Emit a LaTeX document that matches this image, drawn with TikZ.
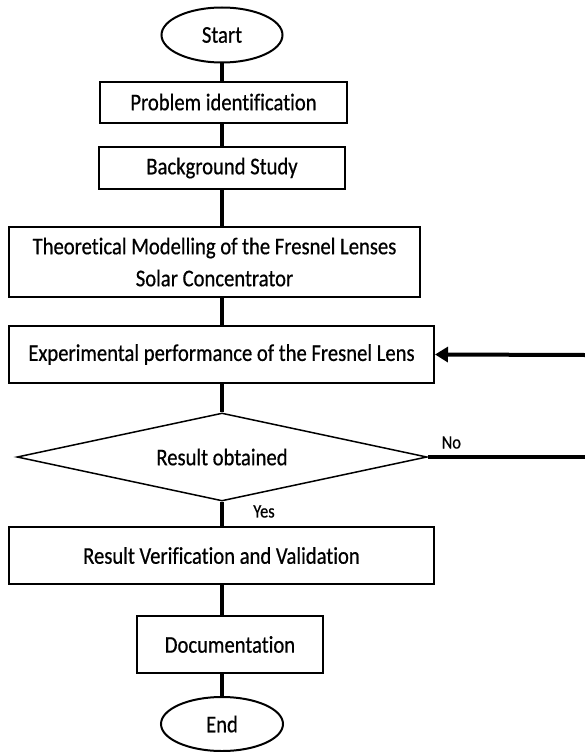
\documentclass[tikz,border=0pt]{standalone}
\usepackage{fontspec}
\setmainfont{Carlito}[Ligatures=CommonOff, FakeStretch=0.86, FakeBold=0.6]
\usepackage{tikz}
\usetikzlibrary{arrows.meta,shapes.geometric}
\definecolor{fcblack}{RGB}{0,0,0}

\begin{document}
\begin{tikzpicture}[x=1pt,y=-1pt,
  procbox/.style={draw=fcblack, line width=2pt, rectangle, inner sep=0pt, minimum height=57pt, font=\fontsize{24}{32}\selectfont, align=center},
  termbox/.style={draw=fcblack, line width=2pt, ellipse, inner sep=0pt, minimum width=121pt, minimum height=55pt, font=\fontsize{24}{32}\selectfont},
  decbox/.style={draw=fcblack, line width=1.5pt, diamond, inner sep=0pt, aspect=4.66, minimum width=410pt, minimum height=88pt, font=\fontsize{24}{32}\selectfont},
  flowline/.style={fcblack, line width=4pt},
  flowlabel/.style={font=\fontsize{19}{22}\selectfont}]
\useasboundingbox (0,0) rectangle (585,752);

\node[termbox] (start) at (222,35) {Start};
\node[procbox, minimum width=247pt, minimum height=41pt] (prob) at (223.5,102) {Problem identification};
\node[procbox, minimum width=246pt, minimum height=42pt] (back) at (222,168) {Background Study};
\node[procbox, minimum width=411pt, minimum height=70pt] (theo) at (214.5,262) {Theoretical Modelling of the Fresnel Lenses\\Solar Concentrator};
\node[procbox, minimum width=425pt] (expe) at (221.5,354.5) {Experimental performance of the Fresnel Lens};
\node[decbox] (dec) at (222,457) {Result obtained};
\node[procbox, minimum width=425pt] (veri) at (221.5,555.5) {Result Verification and Validation};
\node[procbox, minimum width=186pt] (docu) at (230,644.5) {Documentation};
\node[termbox, minimum width=122pt, minimum height=54pt] (end) at (222,724) {End};

\coordinate (noout) at (585,457);
\coordinate (noin) at (585,355);

\draw[flowline] (start.south) -- (start.south |- prob.north);
\draw[flowline] (start.south |- prob.south) -- (start.south |- back.north);
\draw[flowline] (start.south |- back.south) -- (start.south |- theo.north);
\draw[flowline] (start.south |- theo.south) -- (start.south |- expe.north);
\draw[flowline] (start.south |- expe.south) -- (dec.north);
\draw[flowline] (dec.south) -- (dec.south |- veri.north) node[flowlabel, pos=0.4, right=26pt] {Yes};
\draw[flowline] (dec.south |- veri.south) -- (dec.south |- docu.north);
\draw[flowline] (dec.south |- docu.south) -- (end.north);

\draw[flowline] (dec.east) -- (noout) node[flowlabel, pos=0.15, above=3pt] {No};
\draw[flowline, -{Triangle[length=13pt,width=15pt]}] (noin) -- (expe.east);
\end{tikzpicture}
\end{document}
